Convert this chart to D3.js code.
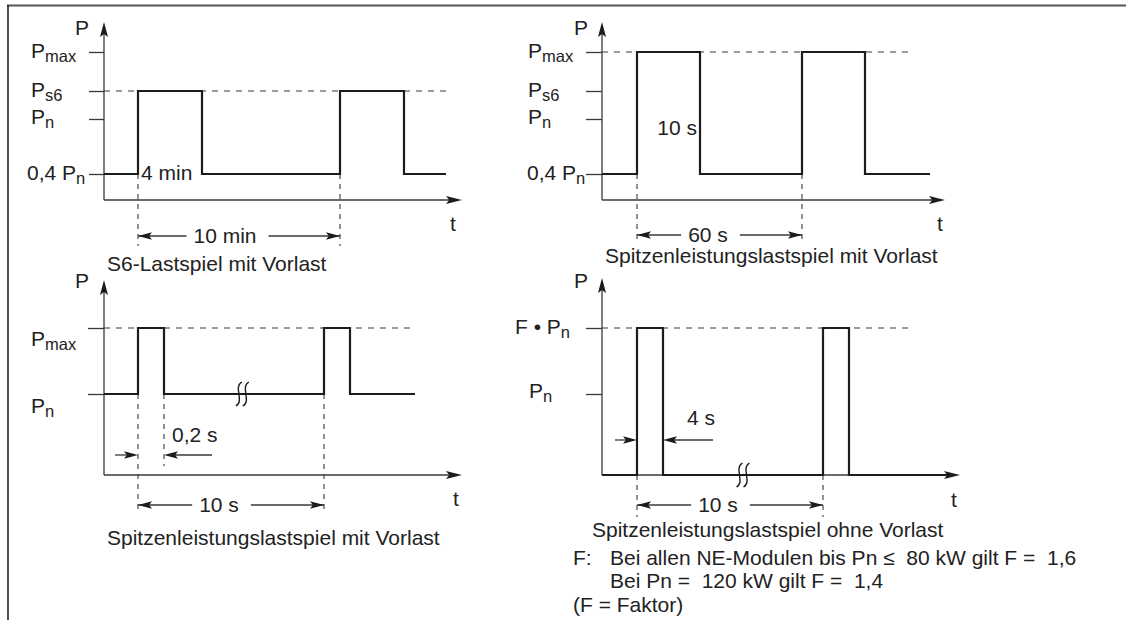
<!DOCTYPE html>
<html><head><meta charset="utf-8">
<script src="https://cdn.jsdelivr.net/npm/d3@7"></script>
<style>
body{margin:0;background:#fff;}
svg text{font-family:"Liberation Sans",Arial,Helvetica,sans-serif;fill:#222;white-space:pre;}
</style></head><body>
<svg id="c" width="1131" height="621"></svg>
<script>
// ================= DATA (schematic; time in min / s, power in units of Pn) =================
// Panel A: S6-Lastspiel mit Vorlast
const s6Time   = [-2, 0, 4, 10, 14, 16];          // change points (min)
const s6Power  = [0.4, 1.5, 0.4, 1.5, 0.4];        // level after each change point
const s6Ticks  = [2, 1.5, 1, 0.4];
const s6TickLabels = [["P","max"],["P","s6"],["P","n"],["0,4 P","n"]];

// Panel B: Spitzenleistungslastspiel mit Vorlast
const pkTime   = [-5, 0, 10, 60, 70, 80];         // s
const pkPower  = [0.4, 2, 0.4, 2, 0.4];
const pkTicks  = [2, 1.5, 1, 0.4];
const pkTickLabels = [["P","max"],["P","s6"],["P","n"],["0,4 P","n"]];

// Panel C: Spitzenleistungslastspiel mit Vorlast (short peaks)
const spTime   = [-2, 0, 0.2, 10, 10.2, 12];      // s
const spPower  = [1, 2, 1, 2, 1];
const spTicks  = [2, 1];
const spTickLabels = [["P","max"],["P","n"]];

// Panel D: Spitzenleistungslastspiel ohne Vorlast
const nvTime   = [-2, 0, 4, 10, 14, 20];          // s
const nvPower  = [0, 1.6, 0, 1.6, 0];
const nvTicks  = [1.6, 1];
const nvTickLabels = [["F \u2022 P","n"],["P","n"]];

const footnotes = [
  "Bei allen NE-Modulen bis Pn \u2264  80 kW gilt F =  1,6",
  "Bei Pn =  120 kW gilt F =  1,4"
];

// ================= DRAWING =================
const svg = d3.select("#c");
const INK = "#1c1c1c";
const GREY = "#3a3a3a";
const FS = 21;

// frame
svg.append("line").attr("x1",7).attr("x2",1126).attr("y1",5.5).attr("y2",5.5)
  .attr("stroke","#555").attr("stroke-width",2);
svg.append("line").attr("x1",8).attr("x2",8).attr("y1",5).attr("y2",620)
  .attr("stroke","#222").attr("stroke-width",1.6);

function txt(g, x, y, main, sub, anchor, size) {
  const t = g.append("text").attr("x",x).attr("y",y)
    .attr("font-size", size||FS).attr("text-anchor", anchor||"start");
  t.append("tspan").text(main);
  if (sub) t.append("tspan").attr("font-size",16.5).attr("dy",4).text(sub);
  return t;
}
function head(g, x, y, dir, len, hw) {
  let p;
  if (dir==='r') p=[[x,y],[x-len,y-hw],[x-len*0.8,y],[x-len,y+hw]];
  else if (dir==='l') p=[[x,y],[x+len,y-hw],[x+len*0.8,y],[x+len,y+hw]];
  else p=[[x,y],[x-hw,y+len],[x,y+len*0.8],[x+hw,y+len]];
  g.append("path").attr("d","M"+p.map(d=>d.join(",")).join("L")+"Z").attr("fill",INK);
}
function dimArrow(g, x1, x2, y, label, textCx) {
  const t = g.append("text").attr("x",textCx).attr("y",y+7).attr("font-size",FS)
    .attr("text-anchor","middle").text(label);
  const bb = t.node().getBBox();
  g.append("line").attr("x1",x1).attr("x2",bb.x-7).attr("y1",y).attr("y2",y)
    .attr("stroke",GREY).attr("stroke-width",1.3);
  g.append("line").attr("x1",bb.x+bb.width+12).attr("x2",x2).attr("y1",y).attr("y2",y)
    .attr("stroke",GREY).attr("stroke-width",1.3);
  head(g, x1, y, 'l', 14, 3.8);
  head(g, x2, y, 'r', 14, 3.8);
}
function breakMark(g, x, y) {
  [-3.5, 3.5].forEach(dx => {
    const cx = x+dx;
    g.append("path")
      .attr("d",`M${cx+3},${y-12} C${cx-6},${y-7} ${cx+6},${y+7} ${cx-3},${y+12}`)
      .attr("fill","none").attr("stroke",INK).attr("stroke-width",1.4);
  });
}

function panel(c) {
  const g = svg.append("g");
  const x = d3.scaleLinear().domain(c.time).range(c.xr);
  const y = d3.scaleLinear().domain(c.yd).range(c.yr);
  const ox = c.xr[0], oy = c.yr[0];

  const ax = d3.axisLeft(y).tickValues(c.ticks).tickSize(c.tickLen).tickFormat("");
  const ag = g.append("g").attr("transform",`translate(${ox},0)`).call(ax);
  ag.select(".domain").remove();
  ag.selectAll(".tick line").attr("stroke",GREY).attr("stroke-width",1.3);

  g.append("line").attr("x1",ox).attr("x2",c.dashEnd)
    .attr("y1",y(c.peak)).attr("y2",y(c.peak))
    .attr("stroke",GREY).attr("stroke-width",1).attr("stroke-dasharray","6,6");

  c.guides.forEach(gd => {
    g.append("line").attr("x1",x(gd[0])).attr("x2",x(gd[0]))
      .attr("y1",y(gd[1])).attr("y2",gd[2])
      .attr("stroke",GREY).attr("stroke-width",1.1).attr("stroke-dasharray","5,5");
  });

  g.append("line").attr("x1",ox).attr("x2",ox).attr("y1",oy).attr("y2",c.axisTop+10)
    .attr("stroke",GREY).attr("stroke-width",1.3);
  head(g, ox, c.axisTop, 'u', 15, 4);
  g.append("line").attr("x1",ox).attr("x2",c.axisRight-10).attr("y1",oy).attr("y2",oy)
    .attr("stroke",GREY).attr("stroke-width",1.3);
  head(g, c.axisRight, oy, 'r', 16, 4);

  const pts = c.power.map((p,i)=>[c.time[i],p]);
  pts.push([c.time[c.time.length-1], c.power[c.power.length-1]]);
  g.append("path").datum(pts)
    .attr("d", d3.line().x(d=>x(d[0])).y(d=>y(d[1])).curve(d3.curveStepAfter))
    .attr("fill","none").attr("stroke",INK).attr("stroke-width",2.2);

  c.labels.forEach((l,i)=> txt(g, c.labelPos[i][0], c.labelPos[i][1], l[0], l[1]));

  txt(g, c.pPos[0], c.pPos[1], "P");
  txt(g, c.tPos[0], c.tPos[1], "t");
  txt(g, c.titlePos[0], c.titlePos[1], c.title);

  return {g, x, y};
}

// Panel A
const A = panel({
  time: s6Time, power: s6Power, ticks: s6Ticks, labels: s6TickLabels,
  xr: [104,138,202,340,404,446], yd: [0,0.4,1,1.5,2], yr: [200,174,119,91,52],
  tickLen: 15, axisTop: 22, axisRight: 462, peak: 1.5, dashEnd: 446,
  guides: [[0,0.4,246],[10,0.4,246]],
  labelPos: [[31,58],[31,97],[31,124],[27,180]],
  pPos: [75,35], tPos: [450,231], titlePos: [107,271],
  title: "S6-Lastspiel mit Vorlast"
});
txt(A.g, A.x(0)+3, 180, "4 min");
dimArrow(A.g, A.x(0), A.x(10), 236, "10 min", 225);

// Panel B
const B = panel({
  time: pkTime, power: pkPower, ticks: pkTicks, labels: pkTickLabels,
  xr: [602,637,700,802,865,930], yd: [0,0.4,1,1.5,2], yr: [200,174,119,91,52],
  tickLen: 16, axisTop: 22, axisRight: 945, peak: 2, dashEnd: 913,
  guides: [[0,0.4,242],[60,0.4,242]],
  labelPos: [[528,58],[528,97],[528,124],[527,180]],
  pPos: [574,35], tPos: [937,231], titlePos: [605,263],
  title: "Spitzenleistungslastspiel mit Vorlast"
});
txt(B.g, B.x(10)-3, 135, "10 s", null, "end");
dimArrow(B.g, B.x(0), B.x(60), 235, "60 s", 708);

// Panel C
const C = panel({
  time: spTime, power: spPower, ticks: spTicks, labels: spTickLabels,
  xr: [104,138,164,324,350,415], yd: [0,1,2], yr: [475,394,328],
  tickLen: 16, axisTop: 280, axisRight: 462, peak: 2, dashEnd: 415,
  guides: [[0,1,513],[0.2,1,466],[10,1,513]],
  labelPos: [[31,346],[31,413]],
  pPos: [75,288], tPos: [453,506], titlePos: [107,545],
  title: "Spitzenleistungslastspiel mit Vorlast"
});
breakMark(C.g, C.x(5), C.y(1));
txt(C.g, 172, 442, "0,2 s");
C.g.append("line").attr("x1",115).attr("x2",C.x(0)-8).attr("y1",455).attr("y2",455).attr("stroke",GREY).attr("stroke-width",1.3);
head(C.g, C.x(0), 455, 'r', 14, 3.8);
C.g.append("line").attr("x1",C.x(0.2)+8).attr("x2",212).attr("y1",455).attr("y2",455).attr("stroke",GREY).attr("stroke-width",1.3);
head(C.g, C.x(0.2), 455, 'l', 14, 3.8);
dimArrow(C.g, C.x(0), C.x(10), 505, "10 s", 219);

// Panel D
const D = panel({
  time: nvTime, power: nvPower, ticks: nvTicks, labels: nvTickLabels,
  xr: [602,637,663,823,849,955], yd: [0,1,1.6], yr: [475,394,328],
  tickLen: 16, axisTop: 278, axisRight: 960, peak: 1.6, dashEnd: 913,
  guides: [[0,0,517],[4,1.6,475],[10,0,517]],
  labelPos: [[515,334],[529,398]],
  pPos: [574,288], tPos: [951,507], titlePos: [592,537],
  title: "Spitzenleistungslastspiel ohne Vorlast"
});
breakMark(D.g, D.x(7), D.y(0));
txt(D.g, 687, 425, "4 s");
D.g.append("line").attr("x1",615).attr("x2",D.x(0)-8).attr("y1",440).attr("y2",440).attr("stroke",GREY).attr("stroke-width",1.3);
head(D.g, D.x(0), 440, 'r', 14, 3.8);
D.g.append("line").attr("x1",D.x(4)+8).attr("x2",713).attr("y1",440).attr("y2",440).attr("stroke",GREY).attr("stroke-width",1.3);
head(D.g, D.x(4), 440, 'l', 14, 3.8);
dimArrow(D.g, D.x(0), D.x(10), 505, "10 s", 718);

// footnote
txt(svg, 573, 565, "F:");
footnotes.forEach((f,i)=> txt(svg, 610, 565 + i*23, f));
txt(svg, 573, 612, "(F = Faktor)");
</script>
</body></html>
